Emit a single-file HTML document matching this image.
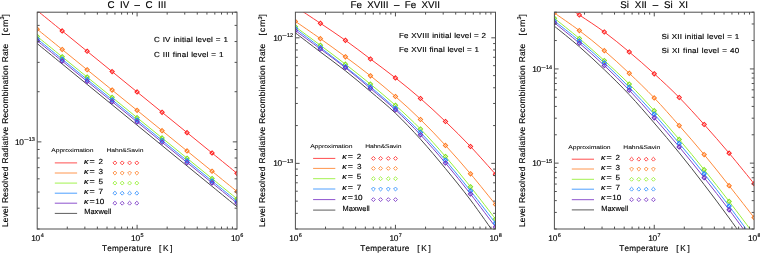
<!DOCTYPE html><html><head><meta charset="utf-8"><style>html,body{margin:0;padding:0;background:#fff;width:760px;height:253px;overflow:hidden}svg{display:block;will-change:transform}text{font-family:"Liberation Sans", sans-serif;fill:#000;white-space:pre;font-kerning:none;text-rendering:geometricPrecision;stroke:#000;stroke-width:0.15px}.ns{stroke-width:0.05px}</style></head><body>
<svg width="760" height="253" viewBox="0 0 760 253" xmlns="http://www.w3.org/2000/svg">
<defs><filter id="bl" x="0" y="0" width="1" height="1"><feGaussianBlur stdDeviation="0.4"/></filter></defs>
<rect width="760" height="253" fill="#fff"/>
<g filter="url(#bl)">
<clipPath id="c0"><rect x="37.2" y="12.2" width="199.8" height="216.8"/></clipPath>
<g clip-path="url(#c0)" fill="none" stroke-width="1.0">
<path d="M37.2 10.6C41.36 13.99 53.85 24.16 62.18 30.94C70.5 37.72 78.83 44.5 87.15 51.28C95.48 58.06 103.8 64.84 112.13 71.62C120.45 78.4 128.78 85.18 137.1 91.96C145.43 98.74 153.75 105.52 162.07 112.3C170.4 119.08 178.72 125.86 187.05 132.64C195.38 139.42 203.7 146.2 212.03 152.98C220.35 159.76 232.84 169.93 237 173.32" stroke="#ff3a3a"/>
<path d="M37.2 29.2C41.36 32.58 53.85 42.73 62.18 49.49C70.5 56.25 78.83 63.02 87.15 69.78C95.48 76.54 103.8 83.31 112.13 90.07C120.45 96.83 128.78 103.6 137.1 110.36C145.43 117.12 153.75 123.89 162.07 130.65C170.4 137.41 178.72 144.18 187.05 150.94C195.38 157.7 203.7 164.47 212.03 171.23C220.35 177.99 232.84 188.14 237 191.52" stroke="#ff8a3a"/>
<path d="M37.2 36.5C41.36 39.88 53.85 50.03 62.18 56.79C70.5 63.55 78.83 70.32 87.15 77.08C95.48 83.84 103.8 90.61 112.13 97.37C120.45 104.13 128.78 110.9 137.1 117.66C145.43 124.42 153.75 131.19 162.07 137.95C170.4 144.71 178.72 151.48 187.05 158.24C195.38 165 203.7 171.77 212.03 178.53C220.35 185.29 232.84 195.44 237 198.82" stroke="#98f03a"/>
<path d="M37.2 38.9C41.36 42.28 53.85 52.43 62.18 59.19C70.5 65.95 78.83 72.72 87.15 79.48C95.48 86.24 103.8 93.01 112.13 99.77C120.45 106.53 128.78 113.3 137.1 120.06C145.43 126.82 153.75 133.59 162.07 140.35C170.4 147.11 178.72 153.88 187.05 160.64C195.38 167.4 203.7 174.17 212.03 180.93C220.35 187.69 232.84 197.84 237 201.22" stroke="#3a95ff"/>
<path d="M37.2 40.8C41.36 44.18 53.85 54.33 62.18 61.09C70.5 67.85 78.83 74.62 87.15 81.38C95.48 88.14 103.8 94.91 112.13 101.67C120.45 108.43 128.78 115.2 137.1 121.96C145.43 128.72 153.75 135.49 162.07 142.25C170.4 149.01 178.72 155.78 187.05 162.54C195.38 169.3 203.7 176.07 212.03 182.83C220.35 189.59 232.84 199.74 237 203.12" stroke="#8040c8"/>
<path d="M37.2 43.6C41.36 47 53.85 57.19 62.18 63.99C70.5 70.79 78.83 77.58 87.15 84.38C95.48 91.18 103.8 97.97 112.13 104.77C120.45 111.57 128.78 118.36 137.1 125.16C145.43 131.96 153.75 138.75 162.07 145.55C170.4 152.35 178.72 159.14 187.05 165.94C195.38 172.74 203.7 179.53 212.03 186.33C220.35 193.13 232.84 203.32 237 206.72" stroke="#4a4a4a"/>
<path d="M37.2 8.5l2.1 2.1l-2.1 2.1l-2.1 -2.1zM62.18 28.84l2.1 2.1l-2.1 2.1l-2.1 -2.1zM87.15 49.18l2.1 2.1l-2.1 2.1l-2.1 -2.1zM112.13 69.52l2.1 2.1l-2.1 2.1l-2.1 -2.1zM137.1 89.86l2.1 2.1l-2.1 2.1l-2.1 -2.1zM162.07 110.2l2.1 2.1l-2.1 2.1l-2.1 -2.1zM187.05 130.54l2.1 2.1l-2.1 2.1l-2.1 -2.1zM212.03 150.88l2.1 2.1l-2.1 2.1l-2.1 -2.1zM237 171.22l2.1 2.1l-2.1 2.1l-2.1 -2.1z" stroke="#ff2020" stroke-width="1.05"/>
<path d="M37.2 27.1l2.1 2.1l-2.1 2.1l-2.1 -2.1zM62.18 47.39l2.1 2.1l-2.1 2.1l-2.1 -2.1zM87.15 67.68l2.1 2.1l-2.1 2.1l-2.1 -2.1zM112.13 87.97l2.1 2.1l-2.1 2.1l-2.1 -2.1zM137.1 108.26l2.1 2.1l-2.1 2.1l-2.1 -2.1zM162.07 128.55l2.1 2.1l-2.1 2.1l-2.1 -2.1zM187.05 148.84l2.1 2.1l-2.1 2.1l-2.1 -2.1zM212.03 169.13l2.1 2.1l-2.1 2.1l-2.1 -2.1zM237 189.42l2.1 2.1l-2.1 2.1l-2.1 -2.1z" stroke="#ff7a20" stroke-width="1.05"/>
<path d="M37.2 34.4l2.1 2.1l-2.1 2.1l-2.1 -2.1zM62.18 54.69l2.1 2.1l-2.1 2.1l-2.1 -2.1zM87.15 74.98l2.1 2.1l-2.1 2.1l-2.1 -2.1zM112.13 95.27l2.1 2.1l-2.1 2.1l-2.1 -2.1zM137.1 115.56l2.1 2.1l-2.1 2.1l-2.1 -2.1zM162.07 135.85l2.1 2.1l-2.1 2.1l-2.1 -2.1zM187.05 156.14l2.1 2.1l-2.1 2.1l-2.1 -2.1zM212.03 176.43l2.1 2.1l-2.1 2.1l-2.1 -2.1zM237 196.72l2.1 2.1l-2.1 2.1l-2.1 -2.1z" stroke="#80e020" stroke-width="1.05"/>
<path d="M37.2 36.8l2.1 2.1l-2.1 2.1l-2.1 -2.1zM62.18 57.09l2.1 2.1l-2.1 2.1l-2.1 -2.1zM87.15 77.38l2.1 2.1l-2.1 2.1l-2.1 -2.1zM112.13 97.67l2.1 2.1l-2.1 2.1l-2.1 -2.1zM137.1 117.96l2.1 2.1l-2.1 2.1l-2.1 -2.1zM162.07 138.25l2.1 2.1l-2.1 2.1l-2.1 -2.1zM187.05 158.54l2.1 2.1l-2.1 2.1l-2.1 -2.1zM212.03 178.83l2.1 2.1l-2.1 2.1l-2.1 -2.1zM237 199.12l2.1 2.1l-2.1 2.1l-2.1 -2.1z" stroke="#2088ff" stroke-width="1.05"/>
<path d="M37.2 38.7l2.1 2.1l-2.1 2.1l-2.1 -2.1zM62.18 58.99l2.1 2.1l-2.1 2.1l-2.1 -2.1zM87.15 79.28l2.1 2.1l-2.1 2.1l-2.1 -2.1zM112.13 99.57l2.1 2.1l-2.1 2.1l-2.1 -2.1zM137.1 119.86l2.1 2.1l-2.1 2.1l-2.1 -2.1zM162.07 140.15l2.1 2.1l-2.1 2.1l-2.1 -2.1zM187.05 160.44l2.1 2.1l-2.1 2.1l-2.1 -2.1zM212.03 180.73l2.1 2.1l-2.1 2.1l-2.1 -2.1zM237 201.02l2.1 2.1l-2.1 2.1l-2.1 -2.1z" stroke="#7030c0" stroke-width="1.05"/>
</g>
<rect x="37.2" y="12.2" width="199.8" height="216.8" fill="none" stroke="#505050" stroke-width="1.0"/>
<path d="M67.27 229v-2.4M67.27 12.2v2.4M84.86 229v-2.4M84.86 12.2v2.4M97.35 229v-2.4M97.35 12.2v2.4M107.03 229v-2.4M107.03 12.2v2.4M114.94 229v-2.4M114.94 12.2v2.4M121.63 229v-2.4M121.63 12.2v2.4M127.42 229v-2.4M127.42 12.2v2.4M132.53 229v-2.4M132.53 12.2v2.4M137.1 229v-4.2M137.1 12.2v4.2M167.17 229v-2.4M167.17 12.2v2.4M184.76 229v-2.4M184.76 12.2v2.4M197.25 229v-2.4M197.25 12.2v2.4M206.93 229v-2.4M206.93 12.2v2.4M214.84 229v-2.4M214.84 12.2v2.4M221.53 229v-2.4M221.53 12.2v2.4M227.32 229v-2.4M227.32 12.2v2.4M232.43 229v-2.4M232.43 12.2v2.4M37.2 229h2.4M237 229h-2.4M37.2 208.18h2.4M237 208.18h-2.4M37.2 192.03h2.4M237 192.03h-2.4M37.2 178.84h2.4M237 178.84h-2.4M37.2 167.68h2.4M237 167.68h-2.4M37.2 158.02h2.4M237 158.02h-2.4M37.2 149.49h2.4M237 149.49h-2.4M37.2 141.87h4.2M237 141.87h-4.2M37.2 91.71h2.4M237 91.71h-2.4M37.2 62.36h2.4M237 62.36h-2.4M37.2 41.54h2.4M237 41.54h-2.4M37.2 25.39h2.4M237 25.39h-2.4M37.2 12.2h2.4M237 12.2h-2.4" stroke="#505050" stroke-width="1.0" fill="none"/>
<text x="31.16" y="240.80" font-size="8.4" style="letter-spacing:-0.275px;">10</text>
<text x="40.67" y="236.9" font-size="5.5">4</text>
<text x="131.06" y="240.80" font-size="8.4" style="letter-spacing:-0.275px;">10</text>
<text x="140.48" y="236.9" font-size="5.5">5</text>
<text x="230.96" y="240.80" font-size="8.4" style="letter-spacing:-0.275px;">10</text>
<text x="240.32" y="236.9" font-size="5.5">6</text>
<text x="14.96" y="144.87" font-size="8.4" style="letter-spacing:-0.275px;">10</text>
<text transform="translate(0 141.47) scale(1.4969 1)" x="15.962" y="0" font-size="5.5" style="">−</text>
<text x="28.68" y="141.47" font-size="5.5" style="letter-spacing:0.043px;">13</text>
<text x="102.02" y="250.80" font-size="8.2" style="letter-spacing:0.231px;">Temperature</text>
<text x="159.12" y="250.80" font-size="8.2" style="letter-spacing:1.672px;">[K]</text>
<g transform="translate(7.6 0) rotate(-90)">
<text x="-227.09" y="0.00" font-size="8.4" style="letter-spacing:0.217px;word-spacing:0.326px;">Level Resolved Radiative Recombination Rate</text>
<text x="-35.40" y="0.00" font-size="8.4" style="letter-spacing:1.011px;">[cm</text>
<text x="-19.61" y="-3.20" font-size="5.6" style="">3</text>
<text x="-16.47" y="0.00" font-size="8.4" style="">]</text>
</g>
<text x="107.40" y="7.70" font-size="9.8" style="word-spacing:2.720px;">C IV – C III</text>
<text transform="translate(0 41.90) scale(1.1000 1)" x="139.993" y="0" font-size="7.3" style="letter-spacing:0.158px;word-spacing:0.316px;" class="b2">C IV initial level = 1</text>
<text transform="translate(0 56.60) scale(1.1000 1)" x="139.993" y="0" font-size="7.3" style="letter-spacing:0.165px;word-spacing:0.330px;" class="b2">C III final level = 1</text>
<text transform="translate(0 152.20) scale(1.2500 1)" x="41.029" y="0" font-size="5.4" style="letter-spacing:-0.053px;" class="ns">Approximation</text>
<text transform="translate(0 152.20) scale(1.2500 1)" x="85.157" y="0" font-size="5.4" style="letter-spacing:-0.047px;" class="ns">Hahn&amp;Savin</text>
<path d="M54.8 162.9H77.1" stroke="#ff3a3a" stroke-width="0.9"/>
<text transform="translate(0 163.50) scale(1.2000 1)" x="69.918" y="0" font-size="7.4" style="" font-style="italic">κ</text>
<text transform="translate(0 163.50) scale(1.2000 1)" x="74.555" y="0" font-size="7.4" style="">=</text>
<text transform="translate(0 163.50) scale(1.1000 1)" x="89.446" y="0" font-size="7.4" style="">2</text>
<path d="M114.9 160.95l1.95 1.95l-1.95 1.95l-1.95 -1.95zM122.2 160.95l1.95 1.95l-1.95 1.95l-1.95 -1.95zM129.6 160.95l1.95 1.95l-1.95 1.95l-1.95 -1.95zM136.8 160.95l1.95 1.95l-1.95 1.95l-1.95 -1.95z" stroke="#ff3a3a" stroke-width="0.9" fill="none"/>
<path d="M54.8 173H77.1" stroke="#ff8a3a" stroke-width="0.9"/>
<text transform="translate(0 173.60) scale(1.2000 1)" x="69.918" y="0" font-size="7.4" style="" font-style="italic">κ</text>
<text transform="translate(0 173.60) scale(1.2000 1)" x="74.555" y="0" font-size="7.4" style="">=</text>
<text transform="translate(0 173.60) scale(1.1000 1)" x="89.536" y="0" font-size="7.4" style="">3</text>
<path d="M114.9 171.05l1.95 1.95l-1.95 1.95l-1.95 -1.95zM122.2 171.05l1.95 1.95l-1.95 1.95l-1.95 -1.95zM129.6 171.05l1.95 1.95l-1.95 1.95l-1.95 -1.95zM136.8 171.05l1.95 1.95l-1.95 1.95l-1.95 -1.95z" stroke="#ff8a3a" stroke-width="0.9" fill="none"/>
<path d="M54.8 183.1H77.1" stroke="#98f03a" stroke-width="0.9"/>
<text transform="translate(0 183.70) scale(1.2000 1)" x="69.918" y="0" font-size="7.4" style="" font-style="italic">κ</text>
<text transform="translate(0 183.70) scale(1.2000 1)" x="74.555" y="0" font-size="7.4" style="">=</text>
<text transform="translate(0 183.70) scale(1.1000 1)" x="89.522" y="0" font-size="7.4" style="">5</text>
<path d="M114.9 181.15l1.95 1.95l-1.95 1.95l-1.95 -1.95zM122.2 181.15l1.95 1.95l-1.95 1.95l-1.95 -1.95zM129.6 181.15l1.95 1.95l-1.95 1.95l-1.95 -1.95zM136.8 181.15l1.95 1.95l-1.95 1.95l-1.95 -1.95z" stroke="#98f03a" stroke-width="0.9" fill="none"/>
<path d="M54.8 193.2H77.1" stroke="#3a95ff" stroke-width="0.9"/>
<text transform="translate(0 193.80) scale(1.2000 1)" x="69.918" y="0" font-size="7.4" style="" font-style="italic">κ</text>
<text transform="translate(0 193.80) scale(1.2000 1)" x="74.555" y="0" font-size="7.4" style="">=</text>
<text transform="translate(0 193.80) scale(1.1000 1)" x="89.439" y="0" font-size="7.4" style="">7</text>
<path d="M114.9 191.25l1.95 1.95l-1.95 1.95l-1.95 -1.95zM122.2 191.25l1.95 1.95l-1.95 1.95l-1.95 -1.95zM129.6 191.25l1.95 1.95l-1.95 1.95l-1.95 -1.95zM136.8 191.25l1.95 1.95l-1.95 1.95l-1.95 -1.95z" stroke="#3a95ff" stroke-width="0.9" fill="none"/>
<path d="M54.8 203.2H77.1" stroke="#8040c8" stroke-width="0.9"/>
<text transform="translate(0 203.80) scale(1.2000 1)" x="69.918" y="0" font-size="7.4" style="" font-style="italic">κ</text>
<text transform="translate(0 203.80) scale(1.2000 1)" x="74.555" y="0" font-size="7.4" style="">=</text>
<text transform="translate(0 203.80) scale(1.1000 1)" x="86.618" y="0" font-size="7.4" style="letter-spacing:-0.106px;">10</text>
<path d="M114.9 201.25l1.95 1.95l-1.95 1.95l-1.95 -1.95zM122.2 201.25l1.95 1.95l-1.95 1.95l-1.95 -1.95zM129.6 201.25l1.95 1.95l-1.95 1.95l-1.95 -1.95zM136.8 201.25l1.95 1.95l-1.95 1.95l-1.95 -1.95z" stroke="#8040c8" stroke-width="0.9" fill="none"/>
<path d="M54.8 213.4H77.1" stroke="#4a4a4a" stroke-width="0.9"/>
<text x="84.19" y="214.30" font-size="7.4" style="letter-spacing:0.079px;">Maxwell</text>
<clipPath id="c1"><rect x="295.4" y="12.2" width="200.1" height="216.8"/></clipPath>
<g clip-path="url(#c1)" fill="none" stroke-width="1.0">
<path d="M295.4 6.7C299.57 9.47 312.07 17.7 320.41 23.3C328.75 28.9 337.09 34.35 345.42 40.3C353.76 46.25 362.1 52.73 370.44 59C378.77 65.27 387.11 71.32 395.45 77.9C403.79 84.48 412.12 91.23 420.46 98.5C428.8 105.77 437.14 113.5 445.48 121.5C453.81 129.5 462.15 137.72 470.49 146.5C478.82 155.28 491.33 169.58 495.5 174.2" stroke="#ff3a3a"/>
<path d="M295.4 21.4C299.57 24.28 312.07 32.8 320.41 38.7C328.75 44.6 337.09 50.62 345.42 56.8C353.76 62.98 362.1 69.18 370.44 75.8C378.77 82.42 387.11 89.22 395.45 96.5C403.79 103.78 412.12 111.35 420.46 119.5C428.8 127.65 437.14 136.35 445.48 145.4C453.81 154.45 462.15 163.95 470.49 173.8C478.82 183.65 491.33 199.38 495.5 204.5" stroke="#ff8a3a"/>
<path d="M295.4 26.8C299.57 29.88 312.07 39.07 320.41 45.3C328.75 51.53 337.09 57.73 345.42 64.2C353.76 70.67 362.1 77.25 370.44 84.1C378.77 90.95 387.11 97.82 395.45 105.3C403.79 112.78 412.12 120.47 420.46 129C428.8 137.53 437.14 146.87 445.48 156.5C453.81 166.13 462.15 176.38 470.49 186.8C478.82 197.22 491.33 213.63 495.5 219" stroke="#98f03a"/>
<path d="M295.4 28.5C299.57 31.67 312.07 41.12 320.41 47.5C328.75 53.88 337.09 60.23 345.42 66.8C353.76 73.37 362.1 79.98 370.44 86.9C378.77 93.82 387.11 100.72 395.45 108.3C403.79 115.88 412.12 123.73 420.46 132.4C428.8 141.07 437.14 150.55 445.48 160.3C453.81 170.05 462.15 180.42 470.49 190.9C478.82 201.38 491.33 217.82 495.5 223.2" stroke="#3a95ff"/>
<path d="M295.4 30.6C299.57 33.67 312.07 42.82 320.41 49C328.75 55.18 337.09 61.12 345.42 67.7C353.76 74.28 362.1 81.47 370.44 88.5C378.77 95.53 387.11 102.18 395.45 109.9C403.79 117.62 412.12 125.95 420.46 134.8C428.8 143.65 437.14 153.13 445.48 163C453.81 172.87 462.15 183.33 470.49 194C478.82 204.67 491.33 221.5 495.5 227" stroke="#8040c8"/>
<path d="M295.4 32.9C299.57 36.08 312.07 45.68 320.41 52C328.75 58.32 337.09 64.22 345.42 70.8C353.76 77.38 362.1 84.43 370.44 91.5C378.77 98.57 387.11 105.25 395.45 113.2C403.79 121.15 412.12 129.97 420.46 139.2C428.8 148.43 437.14 158.47 445.48 168.6C453.81 178.73 462.15 188.93 470.49 200C478.82 211.07 491.33 229.17 495.5 235" stroke="#4a4a4a"/>
<path d="M295.4 4.6l2.1 2.1l-2.1 2.1l-2.1 -2.1zM320.41 21.2l2.1 2.1l-2.1 2.1l-2.1 -2.1zM345.42 38.2l2.1 2.1l-2.1 2.1l-2.1 -2.1zM370.44 56.9l2.1 2.1l-2.1 2.1l-2.1 -2.1zM395.45 75.8l2.1 2.1l-2.1 2.1l-2.1 -2.1zM420.46 96.4l2.1 2.1l-2.1 2.1l-2.1 -2.1zM445.48 119.4l2.1 2.1l-2.1 2.1l-2.1 -2.1zM470.49 144.4l2.1 2.1l-2.1 2.1l-2.1 -2.1zM495.5 172.1l2.1 2.1l-2.1 2.1l-2.1 -2.1z" stroke="#ff2020" stroke-width="1.05"/>
<path d="M295.4 19.3l2.1 2.1l-2.1 2.1l-2.1 -2.1zM320.41 36.6l2.1 2.1l-2.1 2.1l-2.1 -2.1zM345.42 54.7l2.1 2.1l-2.1 2.1l-2.1 -2.1zM370.44 73.7l2.1 2.1l-2.1 2.1l-2.1 -2.1zM395.45 94.4l2.1 2.1l-2.1 2.1l-2.1 -2.1zM420.46 117.4l2.1 2.1l-2.1 2.1l-2.1 -2.1zM445.48 143.3l2.1 2.1l-2.1 2.1l-2.1 -2.1zM470.49 171.7l2.1 2.1l-2.1 2.1l-2.1 -2.1zM495.5 202.4l2.1 2.1l-2.1 2.1l-2.1 -2.1z" stroke="#ff7a20" stroke-width="1.05"/>
<path d="M295.4 24.7l2.1 2.1l-2.1 2.1l-2.1 -2.1zM320.41 43.2l2.1 2.1l-2.1 2.1l-2.1 -2.1zM345.42 62.1l2.1 2.1l-2.1 2.1l-2.1 -2.1zM370.44 82l2.1 2.1l-2.1 2.1l-2.1 -2.1zM395.45 103.2l2.1 2.1l-2.1 2.1l-2.1 -2.1zM420.46 126.9l2.1 2.1l-2.1 2.1l-2.1 -2.1zM445.48 154.4l2.1 2.1l-2.1 2.1l-2.1 -2.1zM470.49 184.7l2.1 2.1l-2.1 2.1l-2.1 -2.1zM495.5 216.9l2.1 2.1l-2.1 2.1l-2.1 -2.1z" stroke="#80e020" stroke-width="1.05"/>
<path d="M295.4 26.4l2.1 2.1l-2.1 2.1l-2.1 -2.1zM320.41 45.4l2.1 2.1l-2.1 2.1l-2.1 -2.1zM345.42 64.7l2.1 2.1l-2.1 2.1l-2.1 -2.1zM370.44 84.8l2.1 2.1l-2.1 2.1l-2.1 -2.1zM395.45 106.2l2.1 2.1l-2.1 2.1l-2.1 -2.1zM420.46 130.3l2.1 2.1l-2.1 2.1l-2.1 -2.1zM445.48 158.2l2.1 2.1l-2.1 2.1l-2.1 -2.1zM470.49 188.8l2.1 2.1l-2.1 2.1l-2.1 -2.1zM495.5 221.1l2.1 2.1l-2.1 2.1l-2.1 -2.1z" stroke="#2088ff" stroke-width="1.05"/>
<path d="M295.4 28.5l2.1 2.1l-2.1 2.1l-2.1 -2.1zM320.41 46.9l2.1 2.1l-2.1 2.1l-2.1 -2.1zM345.42 65.6l2.1 2.1l-2.1 2.1l-2.1 -2.1zM370.44 86.4l2.1 2.1l-2.1 2.1l-2.1 -2.1zM395.45 107.8l2.1 2.1l-2.1 2.1l-2.1 -2.1zM420.46 132.7l2.1 2.1l-2.1 2.1l-2.1 -2.1zM445.48 160.9l2.1 2.1l-2.1 2.1l-2.1 -2.1zM470.49 191.9l2.1 2.1l-2.1 2.1l-2.1 -2.1zM495.5 224.9l2.1 2.1l-2.1 2.1l-2.1 -2.1z" stroke="#7030c0" stroke-width="1.05"/>
</g>
<rect x="295.4" y="12.2" width="200.1" height="216.8" fill="none" stroke="#505050" stroke-width="1.0"/>
<path d="M325.52 229v-2.4M325.52 12.2v2.4M343.14 229v-2.4M343.14 12.2v2.4M355.64 229v-2.4M355.64 12.2v2.4M365.33 229v-2.4M365.33 12.2v2.4M373.25 229v-2.4M373.25 12.2v2.4M379.95 229v-2.4M379.95 12.2v2.4M385.75 229v-2.4M385.75 12.2v2.4M390.87 229v-2.4M390.87 12.2v2.4M395.45 229v-4.2M395.45 12.2v4.2M425.57 229v-2.4M425.57 12.2v2.4M443.19 229v-2.4M443.19 12.2v2.4M455.69 229v-2.4M455.69 12.2v2.4M465.38 229v-2.4M465.38 12.2v2.4M473.3 229v-2.4M473.3 12.2v2.4M480 229v-2.4M480 12.2v2.4M485.8 229v-2.4M485.8 12.2v2.4M490.92 229v-2.4M490.92 12.2v2.4M295.4 229h2.4M495.5 229h-2.4M295.4 213.32h2.4M495.5 213.32h-2.4M295.4 201.15h2.4M495.5 201.15h-2.4M295.4 191.21h2.4M495.5 191.21h-2.4M295.4 182.81h2.4M495.5 182.81h-2.4M295.4 175.53h2.4M495.5 175.53h-2.4M295.4 169.1h2.4M495.5 169.1h-2.4M295.4 163.36h4.2M495.5 163.36h-4.2M295.4 125.57h2.4M495.5 125.57h-2.4M295.4 103.46h2.4M495.5 103.46h-2.4M295.4 87.78h2.4M495.5 87.78h-2.4M295.4 75.61h2.4M495.5 75.61h-2.4M295.4 65.67h2.4M495.5 65.67h-2.4M295.4 57.27h2.4M495.5 57.27h-2.4M295.4 49.99h2.4M495.5 49.99h-2.4M295.4 43.57h2.4M495.5 43.57h-2.4M295.4 37.82h4.2M495.5 37.82h-4.2" stroke="#505050" stroke-width="1.0" fill="none"/>
<text x="289.36" y="240.80" font-size="8.4" style="letter-spacing:-0.275px;">10</text>
<text x="298.72" y="236.9" font-size="5.5">6</text>
<text x="389.41" y="240.80" font-size="8.4" style="letter-spacing:-0.275px;">10</text>
<text x="398.77" y="236.9" font-size="5.5">7</text>
<text x="489.46" y="240.80" font-size="8.4" style="letter-spacing:-0.275px;">10</text>
<text x="498.86" y="236.9" font-size="5.5">8</text>
<text x="273.16" y="40.82" font-size="8.4" style="letter-spacing:-0.275px;">10</text>
<text transform="translate(0 37.42) scale(1.4969 1)" x="188.447" y="0" font-size="5.5" style="">−</text>
<text x="286.88" y="37.42" font-size="5.5" style="letter-spacing:0.078px;">12</text>
<text x="273.16" y="166.36" font-size="8.4" style="letter-spacing:-0.275px;">10</text>
<text transform="translate(0 162.96) scale(1.4969 1)" x="188.447" y="0" font-size="5.5" style="">−</text>
<text x="286.88" y="162.96" font-size="5.5" style="letter-spacing:0.043px;">13</text>
<text x="360.22" y="250.80" font-size="8.2" style="letter-spacing:0.231px;">Temperature</text>
<text x="417.32" y="250.80" font-size="8.2" style="letter-spacing:1.672px;">[K]</text>
<g transform="translate(265.3 0) rotate(-90)">
<text x="-227.09" y="0.00" font-size="8.4" style="letter-spacing:0.217px;word-spacing:0.326px;">Level Resolved Radiative Recombination Rate</text>
<text x="-35.40" y="0.00" font-size="8.4" style="letter-spacing:1.011px;">[cm</text>
<text x="-19.61" y="-3.20" font-size="5.6" style="">3</text>
<text x="-16.47" y="0.00" font-size="8.4" style="">]</text>
</g>
<text x="350.50" y="7.70" font-size="9.8" style="word-spacing:2.634px;">Fe XVIII – Fe XVII</text>
<text transform="translate(0 38.00) scale(1.1000 1)" x="362.765" y="0" font-size="7.3" style="letter-spacing:0.134px;word-spacing:0.268px;" class="b2">Fe XVIII initial level = 2</text>
<text transform="translate(0 52.20) scale(1.1000 1)" x="362.765" y="0" font-size="7.3" style="letter-spacing:0.109px;word-spacing:0.219px;" class="b2">Fe XVII final level = 1</text>
<text transform="translate(0 147.60) scale(1.2500 1)" x="248.149" y="0" font-size="5.4" style="letter-spacing:-0.053px;" class="ns">Approximation</text>
<text transform="translate(0 147.60) scale(1.2500 1)" x="292.117" y="0" font-size="5.4" style="letter-spacing:-0.101px;" class="ns">Hahn&amp;Savin</text>
<path d="M313.1 158.4H335.3" stroke="#ff3a3a" stroke-width="0.9"/>
<text transform="translate(0 159.00) scale(1.2000 1)" x="285.251" y="0" font-size="7.4" style="" font-style="italic">κ</text>
<text transform="translate(0 159.00) scale(1.2000 1)" x="289.889" y="0" font-size="7.4" style="">=</text>
<text transform="translate(0 159.00) scale(1.1000 1)" x="324.355" y="0" font-size="7.4" style="">2</text>
<path d="M373.4 156.45l1.95 1.95l-1.95 1.95l-1.95 -1.95zM380.6 156.45l1.95 1.95l-1.95 1.95l-1.95 -1.95zM388.3 156.45l1.95 1.95l-1.95 1.95l-1.95 -1.95zM395.5 156.45l1.95 1.95l-1.95 1.95l-1.95 -1.95z" stroke="#ff3a3a" stroke-width="0.9" fill="none"/>
<path d="M313.1 168.4H335.3" stroke="#ff8a3a" stroke-width="0.9"/>
<text transform="translate(0 169.00) scale(1.2000 1)" x="285.251" y="0" font-size="7.4" style="" font-style="italic">κ</text>
<text transform="translate(0 169.00) scale(1.2000 1)" x="289.889" y="0" font-size="7.4" style="">=</text>
<text transform="translate(0 169.00) scale(1.1000 1)" x="324.445" y="0" font-size="7.4" style="">3</text>
<path d="M373.4 166.45l1.95 1.95l-1.95 1.95l-1.95 -1.95zM380.6 166.45l1.95 1.95l-1.95 1.95l-1.95 -1.95zM388.3 166.45l1.95 1.95l-1.95 1.95l-1.95 -1.95zM395.5 166.45l1.95 1.95l-1.95 1.95l-1.95 -1.95z" stroke="#ff8a3a" stroke-width="0.9" fill="none"/>
<path d="M313.1 178.7H335.3" stroke="#98f03a" stroke-width="0.9"/>
<text transform="translate(0 179.30) scale(1.2000 1)" x="285.251" y="0" font-size="7.4" style="" font-style="italic">κ</text>
<text transform="translate(0 179.30) scale(1.2000 1)" x="289.889" y="0" font-size="7.4" style="">=</text>
<text transform="translate(0 179.30) scale(1.1000 1)" x="324.431" y="0" font-size="7.4" style="">5</text>
<path d="M373.4 176.75l1.95 1.95l-1.95 1.95l-1.95 -1.95zM380.6 176.75l1.95 1.95l-1.95 1.95l-1.95 -1.95zM388.3 176.75l1.95 1.95l-1.95 1.95l-1.95 -1.95zM395.5 176.75l1.95 1.95l-1.95 1.95l-1.95 -1.95z" stroke="#98f03a" stroke-width="0.9" fill="none"/>
<path d="M313.1 189H335.3" stroke="#3a95ff" stroke-width="0.9"/>
<text transform="translate(0 189.60) scale(1.2000 1)" x="285.251" y="0" font-size="7.4" style="" font-style="italic">κ</text>
<text transform="translate(0 189.60) scale(1.2000 1)" x="289.889" y="0" font-size="7.4" style="">=</text>
<text transform="translate(0 189.60) scale(1.1000 1)" x="324.348" y="0" font-size="7.4" style="">7</text>
<path d="M373.4 187.05l1.95 1.95l-1.95 1.95l-1.95 -1.95zM380.6 187.05l1.95 1.95l-1.95 1.95l-1.95 -1.95zM388.3 187.05l1.95 1.95l-1.95 1.95l-1.95 -1.95zM395.5 187.05l1.95 1.95l-1.95 1.95l-1.95 -1.95z" stroke="#3a95ff" stroke-width="0.9" fill="none"/>
<path d="M313.1 199.6H335.3" stroke="#8040c8" stroke-width="0.9"/>
<text transform="translate(0 200.20) scale(1.2000 1)" x="285.251" y="0" font-size="7.4" style="" font-style="italic">κ</text>
<text transform="translate(0 200.20) scale(1.2000 1)" x="289.889" y="0" font-size="7.4" style="">=</text>
<text transform="translate(0 200.20) scale(1.1000 1)" x="321.527" y="0" font-size="7.4" style="letter-spacing:-0.106px;">10</text>
<path d="M373.4 197.65l1.95 1.95l-1.95 1.95l-1.95 -1.95zM380.6 197.65l1.95 1.95l-1.95 1.95l-1.95 -1.95zM388.3 197.65l1.95 1.95l-1.95 1.95l-1.95 -1.95zM395.5 197.65l1.95 1.95l-1.95 1.95l-1.95 -1.95z" stroke="#8040c8" stroke-width="0.9" fill="none"/>
<path d="M313.1 210.1H335.3" stroke="#4a4a4a" stroke-width="0.9"/>
<text x="342.59" y="211.00" font-size="7.4" style="letter-spacing:0.079px;">Maxwell</text>
<clipPath id="c2"><rect x="554.4" y="12.2" width="199.7" height="216.8"/></clipPath>
<g clip-path="url(#c2)" fill="none" stroke-width="1.0">
<path d="M554.4 -1.5C558.56 1.25 571.04 9.42 579.36 15C587.68 20.58 596 25.83 604.33 32C612.65 38.17 620.97 45.03 629.29 52C637.61 58.97 645.93 66.22 654.25 73.8C662.57 81.38 670.89 89.05 679.21 97.5C687.53 105.95 695.85 115.22 704.17 124.5C712.5 133.78 720.82 143.33 729.14 153.2C737.46 163.07 749.94 178.62 754.1 183.7" stroke="#ff3a3a"/>
<path d="M554.4 13C558.56 15.93 571.04 24.32 579.36 30.6C587.68 36.88 596 43.58 604.33 50.7C612.65 57.82 620.97 65.43 629.29 73.3C637.61 81.17 645.93 89.18 654.25 97.9C662.57 106.62 670.89 116.15 679.21 125.6C687.53 135.05 695.85 144.58 704.17 154.6C712.5 164.62 720.82 175.2 729.14 185.7C737.46 196.2 749.94 212.28 754.1 217.6" stroke="#ff8a3a"/>
<path d="M554.4 18.3C558.56 21.67 571.04 31.45 579.36 38.5C587.68 45.55 596 53 604.33 60.6C612.65 68.2 620.97 75.75 629.29 84.1C637.61 92.45 645.93 101.48 654.25 110.7C662.57 119.92 670.89 129.57 679.21 139.4C687.53 149.23 695.85 159.37 704.17 169.7C712.5 180.03 720.82 190.62 729.14 201.4C737.46 212.18 749.94 228.9 754.1 234.4" stroke="#98f03a"/>
<path d="M554.4 20.9C558.56 24.23 571.04 33.9 579.36 40.9C587.68 47.9 596 55.15 604.33 62.9C612.65 70.65 620.97 78.85 629.29 87.4C637.61 95.95 645.93 104.87 654.25 114.2C662.57 123.53 670.89 133.47 679.21 143.4C687.53 153.33 695.85 163.35 704.17 173.8C712.5 184.25 720.82 195.07 729.14 206.1C737.46 217.13 749.94 234.35 754.1 240" stroke="#3a95ff"/>
<path d="M554.4 22.8C558.56 26.2 571.04 36.08 579.36 43.2C587.68 50.32 596 57.67 604.33 65.5C612.65 73.33 620.97 81.48 629.29 90.2C637.61 98.92 645.93 108.35 654.25 117.8C662.57 127.25 670.89 136.92 679.21 146.9C687.53 156.88 695.85 167.22 704.17 177.7C712.5 188.18 720.82 198.78 729.14 209.8C737.46 220.82 749.94 238.13 754.1 243.8" stroke="#8040c8"/>
<path d="M554.4 26.2C558.56 29.62 571.04 39.45 579.36 46.7C587.68 53.95 596 61.7 604.33 69.7C612.65 77.7 620.97 85.82 629.29 94.7C637.61 103.58 645.93 113.32 654.25 123C662.57 132.68 670.89 142.53 679.21 152.8C687.53 163.07 695.85 173.73 704.17 184.6C712.5 195.47 720.82 206.6 729.14 218C737.46 229.4 749.94 247.17 754.1 253" stroke="#4a4a4a"/>
<path d="M554.4 -3.6l2.1 2.1l-2.1 2.1l-2.1 -2.1zM579.36 12.9l2.1 2.1l-2.1 2.1l-2.1 -2.1zM604.33 29.9l2.1 2.1l-2.1 2.1l-2.1 -2.1zM629.29 49.9l2.1 2.1l-2.1 2.1l-2.1 -2.1zM654.25 71.7l2.1 2.1l-2.1 2.1l-2.1 -2.1zM679.21 95.4l2.1 2.1l-2.1 2.1l-2.1 -2.1zM704.17 122.4l2.1 2.1l-2.1 2.1l-2.1 -2.1zM729.14 151.1l2.1 2.1l-2.1 2.1l-2.1 -2.1zM754.1 181.6l2.1 2.1l-2.1 2.1l-2.1 -2.1z" stroke="#ff2020" stroke-width="1.05"/>
<path d="M554.4 10.9l2.1 2.1l-2.1 2.1l-2.1 -2.1zM579.36 28.5l2.1 2.1l-2.1 2.1l-2.1 -2.1zM604.33 48.6l2.1 2.1l-2.1 2.1l-2.1 -2.1zM629.29 71.2l2.1 2.1l-2.1 2.1l-2.1 -2.1zM654.25 95.8l2.1 2.1l-2.1 2.1l-2.1 -2.1zM679.21 123.5l2.1 2.1l-2.1 2.1l-2.1 -2.1zM704.17 152.5l2.1 2.1l-2.1 2.1l-2.1 -2.1zM729.14 183.6l2.1 2.1l-2.1 2.1l-2.1 -2.1zM754.1 215.5l2.1 2.1l-2.1 2.1l-2.1 -2.1z" stroke="#ff7a20" stroke-width="1.05"/>
<path d="M554.4 16.2l2.1 2.1l-2.1 2.1l-2.1 -2.1zM579.36 36.4l2.1 2.1l-2.1 2.1l-2.1 -2.1zM604.33 58.5l2.1 2.1l-2.1 2.1l-2.1 -2.1zM629.29 82l2.1 2.1l-2.1 2.1l-2.1 -2.1zM654.25 108.6l2.1 2.1l-2.1 2.1l-2.1 -2.1zM679.21 137.3l2.1 2.1l-2.1 2.1l-2.1 -2.1zM704.17 167.6l2.1 2.1l-2.1 2.1l-2.1 -2.1zM729.14 199.3l2.1 2.1l-2.1 2.1l-2.1 -2.1zM754.1 232.3l2.1 2.1l-2.1 2.1l-2.1 -2.1z" stroke="#80e020" stroke-width="1.05"/>
<path d="M554.4 18.8l2.1 2.1l-2.1 2.1l-2.1 -2.1zM579.36 38.8l2.1 2.1l-2.1 2.1l-2.1 -2.1zM604.33 60.8l2.1 2.1l-2.1 2.1l-2.1 -2.1zM629.29 85.3l2.1 2.1l-2.1 2.1l-2.1 -2.1zM654.25 112.1l2.1 2.1l-2.1 2.1l-2.1 -2.1zM679.21 141.3l2.1 2.1l-2.1 2.1l-2.1 -2.1zM704.17 171.7l2.1 2.1l-2.1 2.1l-2.1 -2.1zM729.14 204l2.1 2.1l-2.1 2.1l-2.1 -2.1zM754.1 237.9l2.1 2.1l-2.1 2.1l-2.1 -2.1z" stroke="#2088ff" stroke-width="1.05"/>
<path d="M554.4 20.7l2.1 2.1l-2.1 2.1l-2.1 -2.1zM579.36 41.1l2.1 2.1l-2.1 2.1l-2.1 -2.1zM604.33 63.4l2.1 2.1l-2.1 2.1l-2.1 -2.1zM629.29 88.1l2.1 2.1l-2.1 2.1l-2.1 -2.1zM654.25 115.7l2.1 2.1l-2.1 2.1l-2.1 -2.1zM679.21 144.8l2.1 2.1l-2.1 2.1l-2.1 -2.1zM704.17 175.6l2.1 2.1l-2.1 2.1l-2.1 -2.1zM729.14 207.7l2.1 2.1l-2.1 2.1l-2.1 -2.1zM754.1 241.7l2.1 2.1l-2.1 2.1l-2.1 -2.1z" stroke="#7030c0" stroke-width="1.05"/>
</g>
<rect x="554.4" y="12.2" width="199.7" height="216.8" fill="none" stroke="#505050" stroke-width="1.0"/>
<path d="M584.46 229v-2.4M584.46 12.2v2.4M602.04 229v-2.4M602.04 12.2v2.4M614.52 229v-2.4M614.52 12.2v2.4M624.19 229v-2.4M624.19 12.2v2.4M632.1 229v-2.4M632.1 12.2v2.4M638.78 229v-2.4M638.78 12.2v2.4M644.57 229v-2.4M644.57 12.2v2.4M649.68 229v-2.4M649.68 12.2v2.4M654.25 229v-4.2M654.25 12.2v4.2M684.31 229v-2.4M684.31 12.2v2.4M701.89 229v-2.4M701.89 12.2v2.4M714.37 229v-2.4M714.37 12.2v2.4M724.04 229v-2.4M724.04 12.2v2.4M731.95 229v-2.4M731.95 12.2v2.4M738.63 229v-2.4M738.63 12.2v2.4M744.42 229v-2.4M744.42 12.2v2.4M749.53 229v-2.4M749.53 12.2v2.4M554.4 229h2.4M754.1 229h-2.4M554.4 212.41h2.4M754.1 212.41h-2.4M554.4 200.64h2.4M754.1 200.64h-2.4M554.4 191.51h2.4M754.1 191.51h-2.4M554.4 184.05h2.4M754.1 184.05h-2.4M554.4 177.74h2.4M754.1 177.74h-2.4M554.4 172.27h2.4M754.1 172.27h-2.4M554.4 167.46h2.4M754.1 167.46h-2.4M554.4 163.14h4.2M754.1 163.14h-4.2M554.4 134.78h2.4M754.1 134.78h-2.4M554.4 118.19h2.4M754.1 118.19h-2.4M554.4 106.42h2.4M754.1 106.42h-2.4M554.4 97.29h2.4M754.1 97.29h-2.4M554.4 89.83h2.4M754.1 89.83h-2.4M554.4 83.52h2.4M754.1 83.52h-2.4M554.4 78.06h2.4M754.1 78.06h-2.4M554.4 73.24h2.4M754.1 73.24h-2.4M554.4 68.93h4.2M754.1 68.93h-4.2M554.4 40.56h2.4M754.1 40.56h-2.4M554.4 23.97h2.4M754.1 23.97h-2.4M554.4 12.2h2.4M754.1 12.2h-2.4" stroke="#505050" stroke-width="1.0" fill="none"/>
<text x="548.36" y="240.80" font-size="8.4" style="letter-spacing:-0.275px;">10</text>
<text x="557.72" y="236.9" font-size="5.5">6</text>
<text x="648.21" y="240.80" font-size="8.4" style="letter-spacing:-0.275px;">10</text>
<text x="657.57" y="236.9" font-size="5.5">7</text>
<text x="748.06" y="240.80" font-size="8.4" style="letter-spacing:-0.275px;">10</text>
<text x="757.46" y="236.9" font-size="5.5">8</text>
<text x="532.16" y="71.93" font-size="8.4" style="letter-spacing:-0.275px;">10</text>
<text transform="translate(0 68.53) scale(1.4969 1)" x="361.467" y="0" font-size="5.5" style="">−</text>
<text x="545.88" y="68.53" font-size="5.5" style="letter-spacing:-0.038px;">14</text>
<text x="532.16" y="166.14" font-size="8.4" style="letter-spacing:-0.275px;">10</text>
<text transform="translate(0 162.74) scale(1.4969 1)" x="361.467" y="0" font-size="5.5" style="">−</text>
<text x="545.88" y="162.74" font-size="5.5" style="letter-spacing:0.032px;">15</text>
<text x="619.22" y="250.80" font-size="8.2" style="letter-spacing:0.231px;">Temperature</text>
<text x="676.32" y="250.80" font-size="8.2" style="letter-spacing:1.672px;">[K]</text>
<g transform="translate(524.5 0) rotate(-90)">
<text x="-227.09" y="0.00" font-size="8.4" style="letter-spacing:0.217px;word-spacing:0.326px;">Level Resolved Radiative Recombination Rate</text>
<text x="-35.40" y="0.00" font-size="8.4" style="letter-spacing:1.011px;">[cm</text>
<text x="-19.61" y="-3.20" font-size="5.6" style="">3</text>
<text x="-16.47" y="0.00" font-size="8.4" style="">]</text>
</g>
<text x="620.25" y="7.70" font-size="9.8" style="word-spacing:3.160px;">Si XII – Si XI</text>
<text transform="translate(0 38.90) scale(1.1000 1)" x="601.396" y="0" font-size="7.3" style="letter-spacing:0.156px;word-spacing:0.313px;" class="b2">Si XII initial level = 1</text>
<text transform="translate(0 52.70) scale(1.1000 1)" x="601.396" y="0" font-size="7.3" style="letter-spacing:0.203px;word-spacing:0.406px;" class="b2">Si XI final level = 40</text>
<text transform="translate(0 148.50) scale(1.2500 1)" x="454.629" y="0" font-size="5.4" style="letter-spacing:-0.053px;" class="ns">Approximation</text>
<text transform="translate(0 148.50) scale(1.2500 1)" x="498.677" y="0" font-size="5.4" style="letter-spacing:-0.056px;" class="ns">Hahn&amp;Savin</text>
<path d="M571.8 159.2H594" stroke="#ff3a3a" stroke-width="0.9"/>
<text transform="translate(0 159.80) scale(1.2000 1)" x="500.751" y="0" font-size="7.4" style="" font-style="italic">κ</text>
<text transform="translate(0 159.80) scale(1.2000 1)" x="505.389" y="0" font-size="7.4" style="">=</text>
<text transform="translate(0 159.80) scale(1.1000 1)" x="559.446" y="0" font-size="7.4" style="">2</text>
<path d="M631.6 157.25l1.95 1.95l-1.95 1.95l-1.95 -1.95zM638.8 157.25l1.95 1.95l-1.95 1.95l-1.95 -1.95zM646.2 157.25l1.95 1.95l-1.95 1.95l-1.95 -1.95zM653.4 157.25l1.95 1.95l-1.95 1.95l-1.95 -1.95z" stroke="#ff3a3a" stroke-width="0.9" fill="none"/>
<path d="M571.8 169H594" stroke="#ff8a3a" stroke-width="0.9"/>
<text transform="translate(0 169.60) scale(1.2000 1)" x="500.751" y="0" font-size="7.4" style="" font-style="italic">κ</text>
<text transform="translate(0 169.60) scale(1.2000 1)" x="505.389" y="0" font-size="7.4" style="">=</text>
<text transform="translate(0 169.60) scale(1.1000 1)" x="559.536" y="0" font-size="7.4" style="">3</text>
<path d="M631.6 167.05l1.95 1.95l-1.95 1.95l-1.95 -1.95zM638.8 167.05l1.95 1.95l-1.95 1.95l-1.95 -1.95zM646.2 167.05l1.95 1.95l-1.95 1.95l-1.95 -1.95zM653.4 167.05l1.95 1.95l-1.95 1.95l-1.95 -1.95z" stroke="#ff8a3a" stroke-width="0.9" fill="none"/>
<path d="M571.8 179.3H594" stroke="#98f03a" stroke-width="0.9"/>
<text transform="translate(0 179.90) scale(1.2000 1)" x="500.751" y="0" font-size="7.4" style="" font-style="italic">κ</text>
<text transform="translate(0 179.90) scale(1.2000 1)" x="505.389" y="0" font-size="7.4" style="">=</text>
<text transform="translate(0 179.90) scale(1.1000 1)" x="559.522" y="0" font-size="7.4" style="">5</text>
<path d="M631.6 177.35l1.95 1.95l-1.95 1.95l-1.95 -1.95zM638.8 177.35l1.95 1.95l-1.95 1.95l-1.95 -1.95zM646.2 177.35l1.95 1.95l-1.95 1.95l-1.95 -1.95zM653.4 177.35l1.95 1.95l-1.95 1.95l-1.95 -1.95z" stroke="#98f03a" stroke-width="0.9" fill="none"/>
<path d="M571.8 189.2H594" stroke="#3a95ff" stroke-width="0.9"/>
<text transform="translate(0 189.80) scale(1.2000 1)" x="500.751" y="0" font-size="7.4" style="" font-style="italic">κ</text>
<text transform="translate(0 189.80) scale(1.2000 1)" x="505.389" y="0" font-size="7.4" style="">=</text>
<text transform="translate(0 189.80) scale(1.1000 1)" x="559.439" y="0" font-size="7.4" style="">7</text>
<path d="M631.6 187.25l1.95 1.95l-1.95 1.95l-1.95 -1.95zM638.8 187.25l1.95 1.95l-1.95 1.95l-1.95 -1.95zM646.2 187.25l1.95 1.95l-1.95 1.95l-1.95 -1.95zM653.4 187.25l1.95 1.95l-1.95 1.95l-1.95 -1.95z" stroke="#3a95ff" stroke-width="0.9" fill="none"/>
<path d="M571.8 199.7H594" stroke="#8040c8" stroke-width="0.9"/>
<text transform="translate(0 200.30) scale(1.2000 1)" x="500.751" y="0" font-size="7.4" style="" font-style="italic">κ</text>
<text transform="translate(0 200.30) scale(1.2000 1)" x="505.389" y="0" font-size="7.4" style="">=</text>
<text transform="translate(0 200.30) scale(1.1000 1)" x="556.618" y="0" font-size="7.4" style="letter-spacing:-0.106px;">10</text>
<path d="M631.6 197.75l1.95 1.95l-1.95 1.95l-1.95 -1.95zM638.8 197.75l1.95 1.95l-1.95 1.95l-1.95 -1.95zM646.2 197.75l1.95 1.95l-1.95 1.95l-1.95 -1.95zM653.4 197.75l1.95 1.95l-1.95 1.95l-1.95 -1.95z" stroke="#8040c8" stroke-width="0.9" fill="none"/>
<path d="M571.8 209.9H594" stroke="#4a4a4a" stroke-width="0.9"/>
<text x="601.19" y="210.80" font-size="7.4" style="letter-spacing:0.079px;">Maxwell</text>
</g></svg></body></html>
